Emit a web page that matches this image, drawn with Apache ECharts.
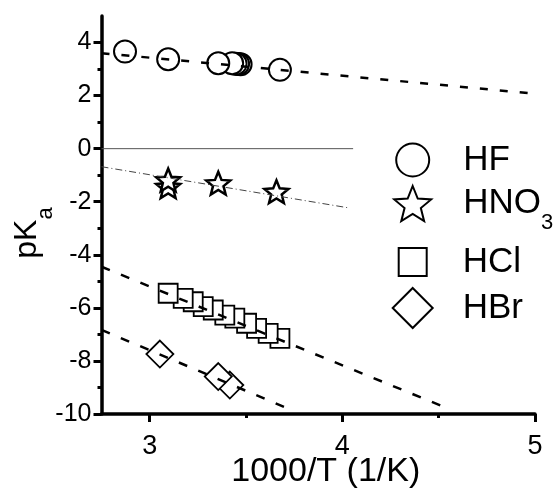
<!DOCTYPE html>
<html>
<head>
<meta charset="utf-8">
<script src="https://cdn.jsdelivr.net/npm/echarts@6/dist/echarts.min.js"></script>
<style>
html,body{margin:0;padding:0;background:#fff;}
#c{width:558px;height:493px;}
</style>
</head>
<body>
<div id="c"></div>
<script>
// ---- data ----
const xMin = 2.75, xMax = 5, yMin = -10, yMax = 5;
const xMajorTicks = [3, 4, 5];
const xMinorTicks = [3.5, 4.5];
const yMajorTicks = [-10, -8, -6, -4, -2, 0, 2, 4];
const yMinorTicks = [-9, -7, -5, -3, -1, 1, 3];

const hfX  = [2.872, 3.096, 3.356, 3.428, 3.446, 3.459, 3.472, 3.676];
const hfY  = [3.66, 3.37, 3.22, 3.22, 3.20, 3.19, 3.18, 2.97];

const hno3X = [3.096, 3.096, 3.356, 3.658];
const hno3Y = [-1.18, -1.43, -1.30, -1.62];

const hclX = [3.096, 3.174, 3.226, 3.278, 3.330, 3.390, 3.442, 3.503, 3.555, 3.615, 3.676];
const hclY = [-5.45, -5.64, -5.77, -5.95, -6.08, -6.27, -6.39, -6.58, -6.77, -6.96, -7.15];

const hbrX = [3.053, 3.356, 3.416];
const hbrY = [-7.74, -8.59, -8.91];

// fitted lines (end points)
const hfFitX = [2.75, 4.97],  hfFitY = [3.60, 2.09];
const hno3FitX = [2.75, 4.04], hno3FitY = [-0.68, -2.24];
const hclFitX = [2.75, 4.557], hclFitY = [-4.45, -9.82];
const hbrFitX = [2.75, 3.727], hbrFitY = [-6.83, -9.82];
const zeroLineX = [2.75, 4.056], zeroLineY = [0, 0];

const FONT = '"Liberation Sans", Arial, sans-serif';
const pair = (xs, ys) => xs.map((x, i) => [x, ys[i]]);
// draw right-to-left so that the left marker ends up on top
const pairRev = (xs, ys) => pair(xs, ys).reverse();

const starPath = 'path://M50 0 L62.93 32.2 L97.55 34.55 L70.92 56.8 L79.39 90.45 L50 72 L20.61 90.45 L29.08 56.8 L2.45 34.55 L37.07 32.2 Z';

const chart = echarts.init(document.getElementById('c'), null, {renderer: 'canvas'});

function fitLine(name, xs, ys, style) {
  return {
    name: name, type: 'line', data: pair(xs, ys), symbol: 'none', z: 5,
    lineStyle: style, silent: true, animation: false
  };
}
function scatter(name, xs, ys, symbol, size, bw) {
  return {
    name: name, type: 'scatter', data: pairRev(xs, ys), symbol: symbol, symbolSize: size,
    symbolKeepAspect: true, z: 3, animation: false,
    itemStyle: {color: '#fff', borderColor: '#000', borderWidth: bw, opacity: 1}
  };
}
function legendFor(name, left, top, size, padLeft, extra) {
  return Object.assign({
    data: [name], left: left, top: top, orient: 'horizontal', padding: 0,
    itemWidth: size, itemHeight: size, selectedMode: false,
    textStyle: {fontFamily: FONT, fontSize: 35, color: '#000', lineHeight: 40, padding: [0, 0, 0, padLeft]}
  }, extra || {});
}

const option = {
  backgroundColor: '#fff',
  animation: false,
  grid: {left: 101.5, right: 23, top: 16, bottom: 79, containLabel: false, outerBoundsMode: 'none'},
  xAxis: [{
    type: 'value', min: xMin, max: xMax, position: 'bottom',
    axisLine: {show: true, onZero: false, lineStyle: {color: '#000', width: 3.5}},
    axisTick: {show: true, customValues: xMajorTicks, length: 8, lineStyle: {color: '#000', width: 3}},
    axisLabel: {show: true, customValues: xMajorTicks, fontFamily: FONT, fontSize: 27, color: '#000', margin: 19},
    splitLine: {show: false},
    name: '1000/T (1/K)', nameLocation: 'middle', nameGap: 41, nameMoveOverlap: false,
    nameTextStyle: {fontFamily: FONT, fontSize: 34, color: '#000', padding: [0, 0, 0, 15]}
  }, {
    type: 'value', min: xMin, max: xMax, position: 'bottom',
    axisLine: {show: false, onZero: false},
    axisTick: {show: true, customValues: xMinorTicks, length: 4, lineStyle: {color: '#000', width: 3}},
    axisLabel: {show: false}, splitLine: {show: false}
  }],
  yAxis: [{
    type: 'value', min: yMin, max: yMax, position: 'left',
    axisLine: {show: true, onZero: false, lineStyle: {color: '#000', width: 3.5}},
    axisTick: {show: true, customValues: yMajorTicks, length: 8, lineStyle: {color: '#000', width: 3}},
    axisLabel: {show: true, customValues: yMajorTicks, fontFamily: FONT, fontSize: 25, color: '#000', margin: 10},
    splitLine: {show: false}
  }, {
    type: 'value', min: yMin, max: yMax, position: 'left',
    axisLine: {show: false, onZero: false},
    axisTick: {show: true, customValues: yMinorTicks, length: 4, lineStyle: {color: '#000', width: 3}},
    axisLabel: {show: false}, splitLine: {show: false}
  }],
  legend: [
    legendFor('HF', 395.2, 140, 33, 29),
    legendFor('HNO3', 393.2, 185, 37, 27, {
      formatter: () => '{n|HNO}{s|3}',
      textStyle: {fontFamily: FONT, fontSize: 35, color: '#000', padding: [0, 0, 0, 27],
        rich: {
          n: {fontFamily: FONT, fontSize: 35, color: '#000', verticalAlign: 'middle'},
          s: {fontFamily: FONT, fontSize: 22, color: '#000', verticalAlign: 'middle', padding: [39, 0, 0, 0]}
        }}
    }),
    legendFor('HCl', 397.7, 242, 28, 31),
    legendFor('HBr', 391.7, 287, 40, 25)
  ],
  graphic: [{
    type: 'text', x: 26.8, y: 233, rotation: Math.PI / 2, silent: true,
    style: {
      text: '{p|pK}{a|a}', align: 'center', verticalAlign: 'middle', fill: '#000',
      rich: {
        p: {fontFamily: FONT, fontSize: 32, fill: '#000', verticalAlign: 'middle'},
        a: {fontFamily: FONT, fontSize: 22, fill: '#000', verticalAlign: 'middle', padding: [39, 0, 0, 0]}
      }
    }
  }],
  series: [
    fitLine('zero', zeroLineX, zeroLineY, {color: '#555', width: 1, type: 'solid'}),
    scatter('HF', hfX, hfY, 'circle', 22, 2),
    scatter('HNO3', hno3X, hno3Y, starPath, 24, 2.5),
    scatter('HCl', hclX, hclY, 'rect', 19, 1.8),
    scatter('HBr', hbrX, hbrY, 'diamond', 27, 1.8),
    fitLine('HF fit', hfFitX, hfFitY, {color: '#000', width: 2.5, type: [8, 12]}),
    fitLine('HNO3 fit', hno3FitX, hno3FitY, {color: '#444', width: 1, type: [7, 3, 1, 3]}),
    fitLine('HCl fit', hclFitX, hclFitY, {color: '#000', width: 2.5, type: [9, 12]}),
    fitLine('HBr fit', hbrFitX, hbrFitY, {color: '#000', width: 2.5, type: [9, 12]})
  ]
};
chart.setOption(option);
</script>
</body>
</html>
